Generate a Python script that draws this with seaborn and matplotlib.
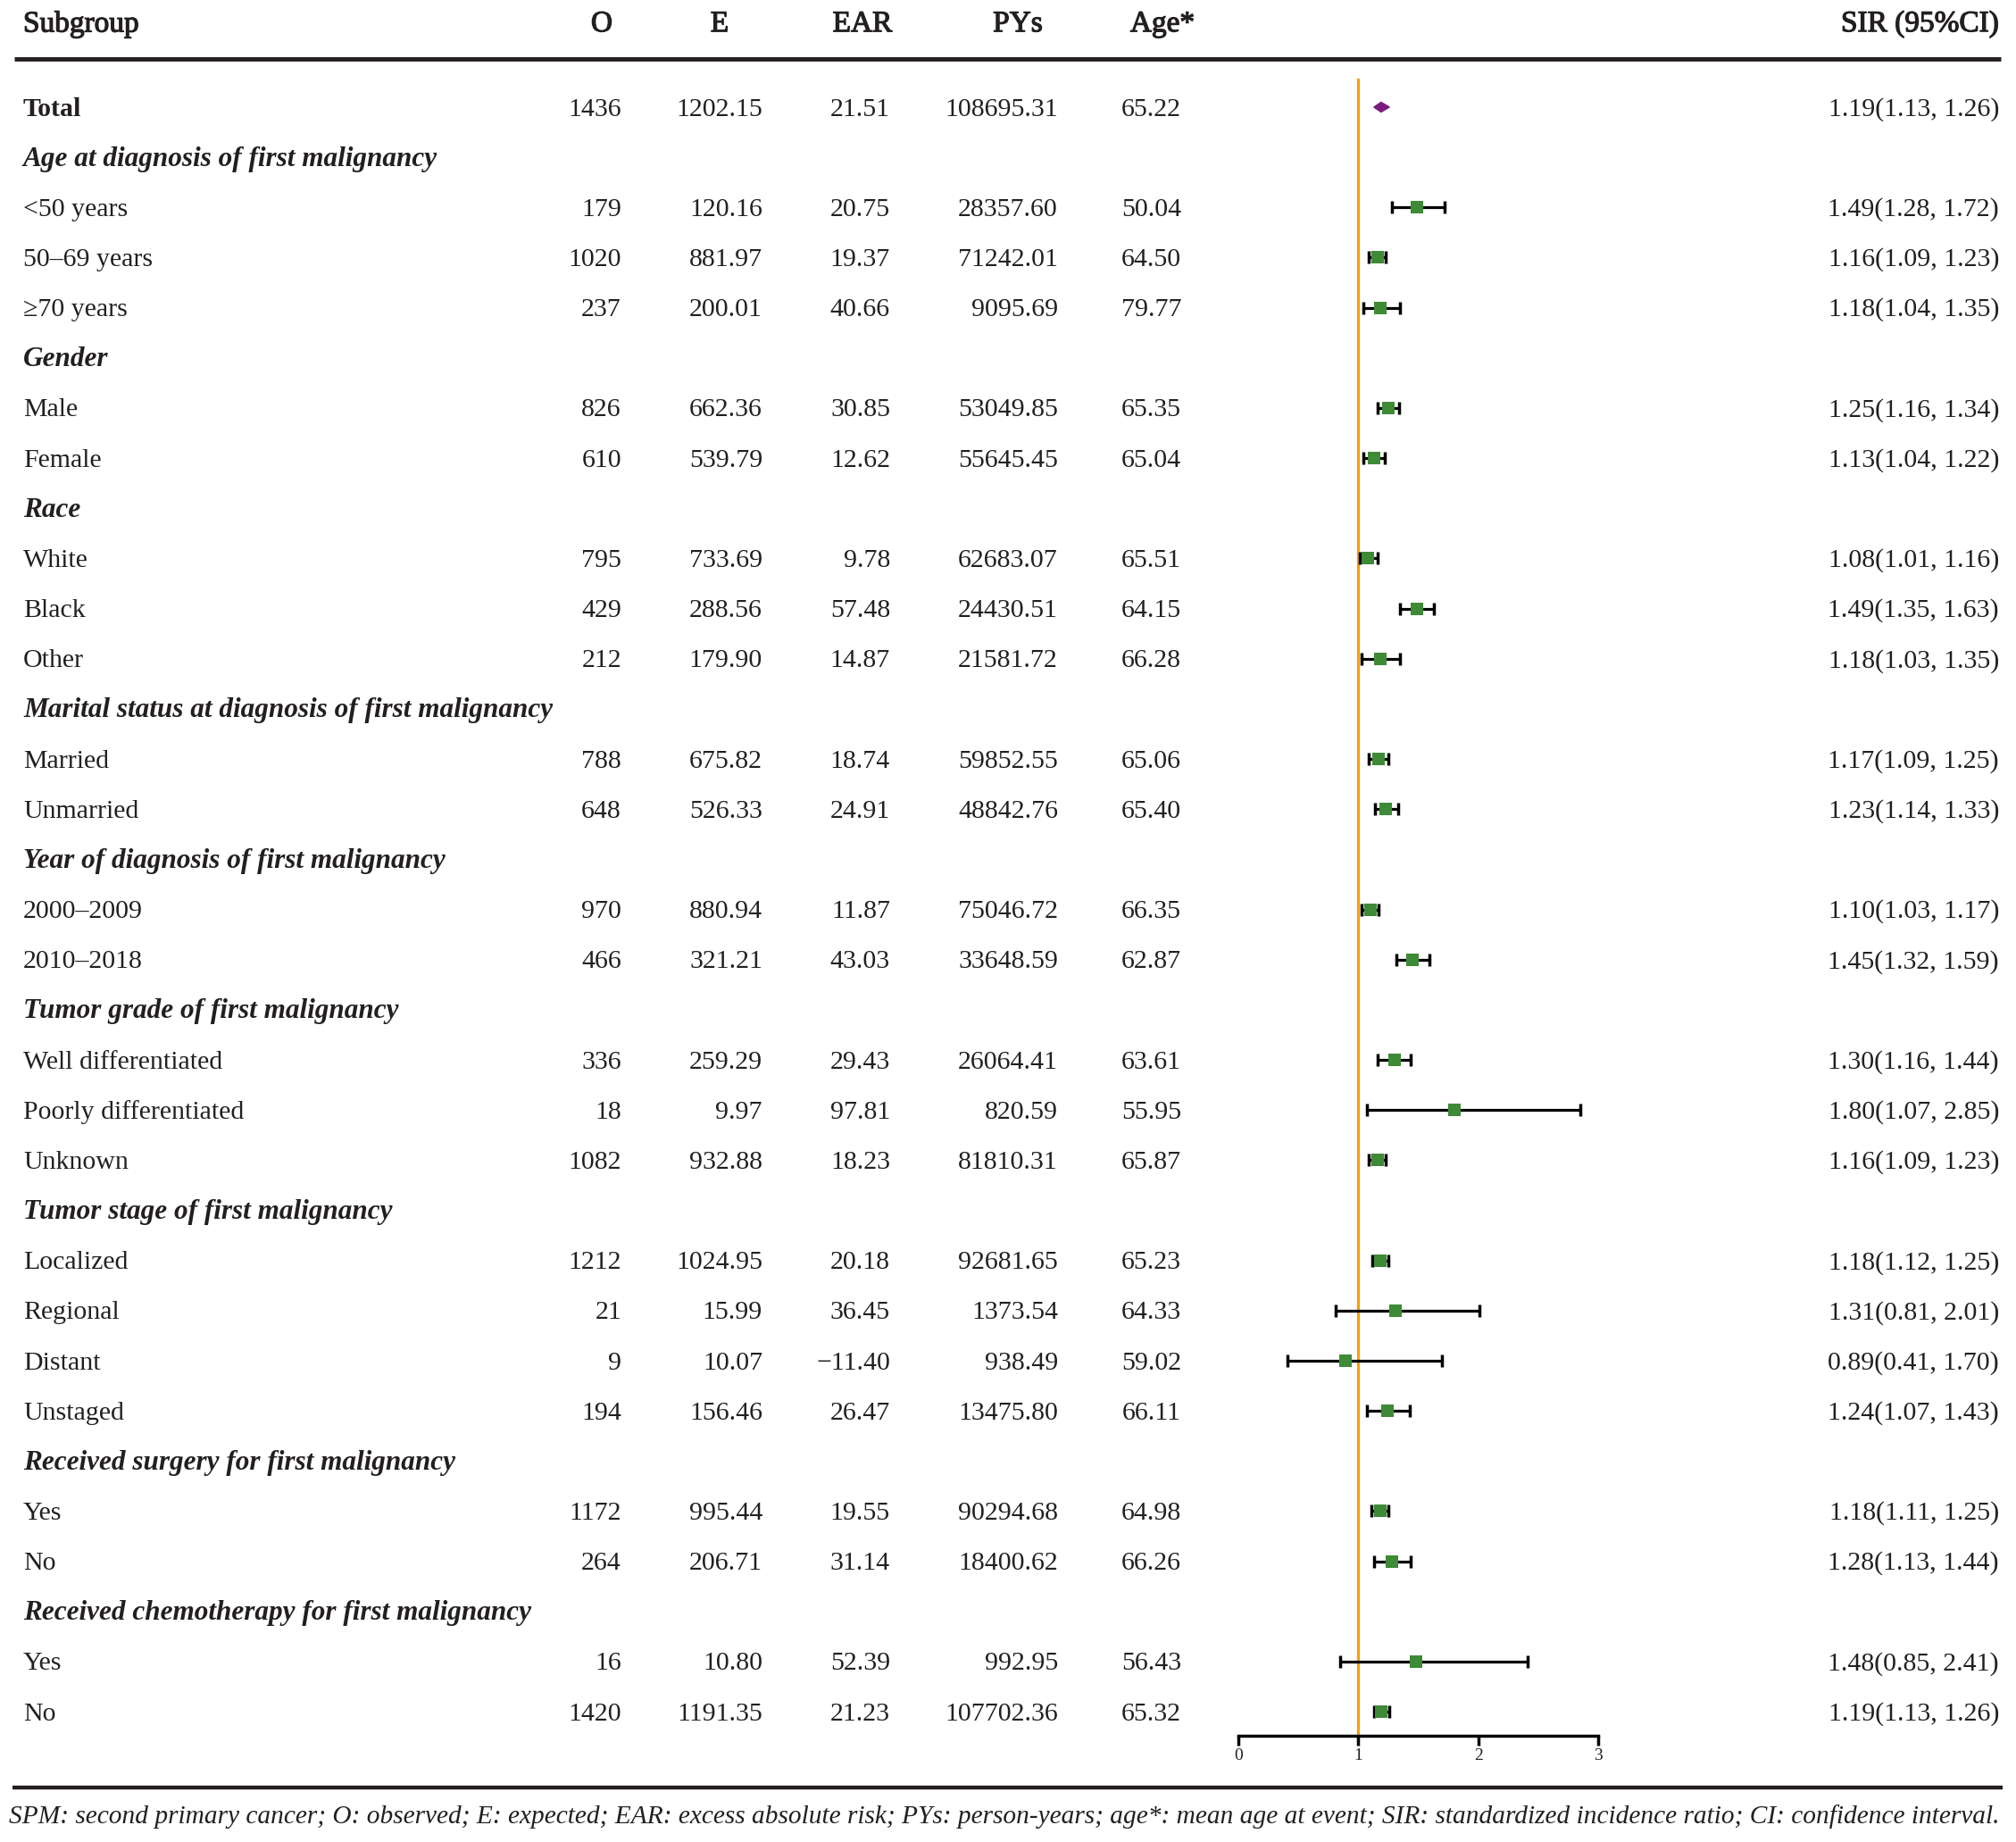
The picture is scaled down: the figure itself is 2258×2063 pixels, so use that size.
import matplotlib
matplotlib.use('Agg')
import matplotlib.pyplot as plt
import matplotlib.patheffects as pe
import seaborn as sns
import pandas as pd
import numpy as np

# dados da tabela (None = linha de título de grupo)
subgroup = ["Total",
            "Age at diagnosis of first malignancy", "<50 years", "50–69 years", "≥70 years",
            "Gender", "Male", "Female",
            "Race", "White", "Black", "Other",
            "Marital status at diagnosis of first malignancy", "Married", "Unmarried",
            "Year of diagnosis of first malignancy", "2000–2009", "2010–2018",
            "Tumor grade of first malignancy", "Well differentiated", "Poorly differentiated", "Unknown",
            "Tumor stage of first malignancy", "Localized", "Regional", "Distant", "Unstaged",
            "Received surgery for first malignancy", "Yes", "No",
            "Received chemotherapy for first malignancy", "Yes", "No"]
observed = [1436, None, 179, 1020, 237, None, 826, 610, None, 795, 429, 212, None, 788, 648,
            None, 970, 466, None, 336, 18, 1082, None, 1212, 21, 9, 194, None, 1172, 264,
            None, 16, 1420]
expected = [1202.15, None, 120.16, 881.97, 200.01, None, 662.36, 539.79, None, 733.69, 288.56, 179.90,
            None, 675.82, 526.33, None, 880.94, 321.21, None, 259.29, 9.97, 932.88, None, 1024.95,
            15.99, 10.07, 156.46, None, 995.44, 206.71, None, 10.80, 1191.35]
ear = [21.51, None, 20.75, 19.37, 40.66, None, 30.85, 12.62, None, 9.78, 57.48, 14.87, None, 18.74,
       24.91, None, 11.87, 43.03, None, 29.43, 97.81, 18.23, None, 20.18, 36.45, -11.40, 26.47,
       None, 19.55, 31.14, None, 52.39, 21.23]
pys = [108695.31, None, 28357.60, 71242.01, 9095.69, None, 53049.85, 55645.45, None, 62683.07,
       24430.51, 21581.72, None, 59852.55, 48842.76, None, 75046.72, 33648.59, None, 26064.41,
       820.59, 81810.31, None, 92681.65, 1373.54, 938.49, 13475.80, None, 90294.68, 18400.62,
       None, 992.95, 107702.36]
age = [65.22, None, 50.04, 64.50, 79.77, None, 65.35, 65.04, None, 65.51, 64.15, 66.28, None, 65.06,
       65.40, None, 66.35, 62.87, None, 63.61, 55.95, 65.87, None, 65.23, 64.33, 59.02, 66.11,
       None, 64.98, 66.26, None, 56.43, 65.32]
sir = [1.19, None, 1.49, 1.16, 1.18, None, 1.25, 1.13, None, 1.08, 1.49, 1.18, None, 1.17, 1.23,
       None, 1.10, 1.45, None, 1.30, 1.80, 1.16, None, 1.18, 1.31, 0.89, 1.24, None, 1.18, 1.28,
       None, 1.48, 1.19]
sir_lo = [1.13, None, 1.28, 1.09, 1.04, None, 1.16, 1.04, None, 1.01, 1.35, 1.03, None, 1.09, 1.14,
          None, 1.03, 1.32, None, 1.16, 1.07, 1.09, None, 1.12, 0.81, 0.41, 1.07, None, 1.11, 1.13,
          None, 0.85, 1.13]
sir_hi = [1.26, None, 1.72, 1.23, 1.35, None, 1.34, 1.22, None, 1.16, 1.63, 1.35, None, 1.25, 1.33,
          None, 1.17, 1.59, None, 1.44, 2.85, 1.23, None, 1.25, 2.01, 1.70, 1.43, None, 1.25, 1.44,
          None, 2.41, 1.26]
axis_ticks = [0, 1, 2, 3]
footnote = ("SPM: second primary cancer; O: observed; E: expected; EAR: excess absolute risk; "
            "PYs: person-years; age*: mean age at event; SIR: standardized incidence ratio; "
            "CI: confidence interval.")

sns.set_theme(style='white')
plt.rcParams['font.family'] = ['Liberation Serif', 'DejaVu Serif']
plt.rcParams['text.color'] = '#231f20'

W, H = 2258, 2063
fig = plt.figure(figsize=(W / 100, H / 100), dpi=100)
ax = fig.add_axes([0, 0, 1, 1])
ax.set_xlim(0, W)
ax.set_ylim(H, 0)
ax.axis('off')

row0, step = 120, 56.16
fs = 21.5
base = 9.5  # deslocamento da linha de base


def fmt(v, dec=2):
    if v is None:
        return ''
    s = f'{v:.{dec}f}'
    return s.replace('-', '−')


# cabeçalho (meio-negrito simulado com contorno)
semi = [pe.withStroke(linewidth=0.9, foreground='#231f20')]
hy = 27
ax.text(26, hy, 'Subgroup', fontsize=24, ha='left', va='center', path_effects=semi)
for txt, xc in [('O', 674), ('E', 806), ('EAR', 966), ('PYs', 1140), ('Age*', 1302)]:
    ax.text(xc, hy, txt, fontsize=24, ha='center', va='center', path_effects=semi)
ax.text(2239, hy, 'SIR (95%CI)', fontsize=24, ha='right', va='center', path_effects=semi)
ax.plot([16, 2241], [66, 66], color='#231f20', lw=3.5, solid_capstyle='butt')
ax.plot([14, 2243], [2002, 2002], color='#231f20', lw=3.2, solid_capstyle='butt')
ax.text(10, 2035, footnote, fontsize=21.2, style='italic', ha='left', va='center')

for i, lab in enumerate(subgroup):
    y = row0 + step * i + base
    if i == 0:
        ax.text(26, y, lab, fontsize=fs, weight='bold', va='baseline')
    elif observed[i] is None:
        ax.text(26, y, lab, fontsize=22.5, weight='bold', style='italic', va='baseline')
        continue
    else:
        ax.text(26, y, lab, fontsize=fs, va='baseline')
    ax.text(696, y, str(observed[i]), fontsize=fs, ha='right', va='baseline')
    ax.text(854, y, fmt(expected[i]), fontsize=fs, ha='right', va='baseline')
    ax.text(997, y, fmt(ear[i]), fontsize=fs, ha='right', va='baseline')
    ax.text(1185, y, fmt(pys[i]), fontsize=fs, ha='right', va='baseline')
    ax.text(1323, y, fmt(age[i]), fontsize=fs, ha='right', va='baseline')
    ax.text(2239, y, f'{sir[i]:.2f}({sir_lo[i]:.2f}, {sir_hi[i]:.2f})',
            fontsize=fs, ha='right', va='baseline')

# forest plot
x0, x3 = 1387, 1790
top_px, bot_px = 88, 1944
ax2 = fig.add_axes([x0 / W, 1 - bot_px / H, (x3 - x0) / W, (bot_px - top_px) / H])
ax2.set_facecolor('none')
ax2.set_xlim(axis_ticks[0], axis_ticks[-1])
ax2.set_ylim((bot_px - row0) / step, (top_px - row0) / step)
for s in ['top', 'left', 'right']:
    ax2.spines[s].set_visible(False)
ax2.spines['bottom'].set_linewidth(2.5)
ax2.spines['bottom'].set_color('black')
ax2.set_yticks([])
ax2.set_xticks(axis_ticks)
ax2.tick_params(axis='x', direction='out', length=8, width=2.5, color='black',
                labelsize=14, pad=2, bottom=True, labelcolor='#231f20')

ax2.axvline(1, color='#F5A100', lw=2.3, zorder=1)

df = pd.DataFrame({'row': np.arange(len(subgroup)), 'sir': sir, 'lo': sir_lo, 'hi': sir_hi})
df = df.dropna()
items = df[df['row'] > 0]
ax2.errorbar(items['sir'], items['row'], xerr=[items['sir'] - items['lo'], items['hi'] - items['sir']],
             fmt='none', ecolor='black', elinewidth=2.3, capsize=5, capthick=2.5, zorder=2)
sns.scatterplot(data=items, x='sir', y='row', marker='s', s=90, color='#3E8A36',
                linewidth=0, ax=ax2, zorder=3)
tot = df[df['row'] == 0].iloc[0]
h = 5.5 / step
ax2.fill([tot['lo'], tot['sir'], tot['hi'], tot['sir']],
         [tot['row'], tot['row'] - h, tot['row'], tot['row'] + h], color='#7B1A7E', zorder=3)
ax2.set_xlabel('')
ax2.set_ylabel('')

fig.savefig('out.png', dpi=100)
